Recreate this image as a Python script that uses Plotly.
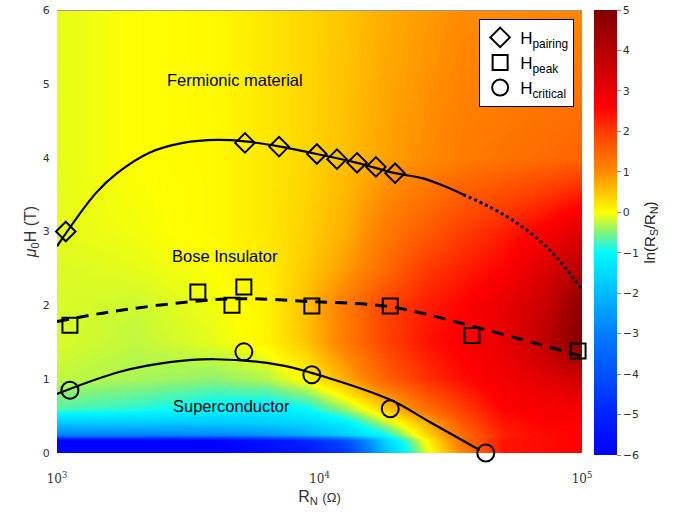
import numpy as np
import plotly.graph_objects as go

# ---------------- data ----------------
# heatmap grid: ln(Rs/Rn) sampled on log10(R_N) columns and field rows
grid_log10_rn = [3.0, 3.3, 3.6, 3.8, 3.95, 4.1, 4.25, 4.4, 4.55, 4.7, 4.85, 5.0]
grid_field = [0.0, 0.17, 0.25, 0.4, 0.6, 1.0, 1.5, 2.0, 2.5, 3.0, 4.0, 6.0]
grid_ln_ratio = [
    [-6.0, -6.0, -6.0, -5.7, -5.4, -4.6, -2.0, -0.2, 1.1, 2.4, 2.5, 2.6],
    [-6.0, -6.0, -6.0, -5.5, -5.0, -4.0, -1.6, 0.0, 1.4, 2.4, 2.5, 2.6],
    [-3.0, -3.0, -2.9, -2.7, -2.3, -1.7, -1.0, 0.3, 1.4, 2.3, 2.5, 2.6],
    [-1.8, -1.8, -1.8, -1.7, -1.6, -1.2, -0.3, 0.6, 1.7, 2.4, 2.6, 2.6],
    [-0.7, -0.85, -1.1, -1.2, -1.0, -0.4, 0.4, 1.3, 2.0, 2.6, 2.7, 2.8],
    [-0.25, -0.35, -0.45, -0.3, 0.05, 0.7, 1.5, 2.1, 2.5, 2.8, 3.1, 3.5],
    [-0.15, -0.25, -0.1, 0.1, 0.5, 1.2, 1.9, 2.4, 2.7, 3.0, 3.8, 5.0],
    [-0.15, -0.2, -0.05, 0.1, 0.55, 1.2, 1.9, 2.3, 2.6, 3.0, 3.6, 4.8],
    [-0.15, -0.1, 0.0, 0.15, 0.45, 0.85, 1.4, 2.0, 2.3, 2.6, 3.2, 4.0],
    [-0.1, -0.05, 0.05, 0.2, 0.4, 0.7, 1.2, 1.6, 2.0, 2.3, 2.7, 3.2],
    [-0.1, 0.0, 0.05, 0.2, 0.35, 0.55, 0.8, 1.0, 1.2, 1.3, 1.4, 1.5],
    [-0.1, 0.0, 0.05, 0.2, 0.35, 0.5, 0.7, 0.85, 1.0, 1.0, 1.05, 1.05],
]

# measured points (R_N in Ohm, field in T)
pairing_rn = [1080, 5200, 7010, 9770, 11660, 13900, 16400, 19400]
pairing_h = [3.00, 4.20, 4.15, 4.05, 3.98, 3.93, 3.875, 3.79]

peak_rn = [1120, 3440, 4640, 5150, 9350, 18600, 38100, 96600]
peak_h = [1.73, 2.18, 2.00, 2.25, 1.99, 1.99, 1.59, 1.38]

critical_rn = [1120, 5150, 9350, 18600, 43000]
critical_h = [0.85, 1.37, 1.06, 0.60, 0.0]

# guide curves (log10 R_N, field)
pair_fit_log = [3.0, 3.148, 3.229, 3.354, 3.48, 3.61, 3.716, 3.85, 3.99, 4.143, 4.288, 4.394, 4.486, 4.547]
pair_fit_h = [2.80, 3.52, 3.79, 4.07, 4.20, 4.24, 4.22, 4.15, 4.05, 3.93, 3.79, 3.72, 3.60, 3.50]
pair_ext_log = [4.547, 4.65, 4.75, 4.85, 4.92, 5.0]
pair_ext_h = [3.50, 3.33, 3.12, 2.84, 2.58, 2.21]

peak_fit_log = [3.0, 3.2, 3.54, 3.71, 3.97, 4.27, 4.60, 5.0]
peak_fit_h = [1.78, 1.91, 2.06, 2.09, 2.05, 1.98, 1.70, 1.31]

crit_fit_log = [3.0, 3.24, 3.43, 3.60, 3.85, 4.04, 4.27, 4.42, 4.61]
crit_fit_h = [0.80, 1.10, 1.23, 1.27, 1.19, 1.01, 0.72, 0.42, 0.04]

region_labels = ["Fermionic material", "Bose Insulator", "Superconductor"]
region_rn = [4760, 4370, 4640]
region_h = [5.05, 2.67, 0.64]

cbar_ticks = [5, 4, 3, 2, 1, 0, -1, -2, -3, -4, -5, -6]

# ---------------- figure ----------------
zmin, zmax = -6, 5
def frac(v):
    return (v - zmin) / (zmax - zmin)

colorscale = [
    [frac(-6), "rgb(0,0,255)"],
    [frac(-5), "rgb(0,35,255)"],
    [frac(-3), "rgb(0,125,255)"],
    [frac(-1), "rgb(0,250,255)"],
    [frac(-0.5), "rgb(130,242,125)"],
    [frac(0), "rgb(255,255,0)"],
    [frac(1), "rgb(255,138,0)"],
    [frac(2), "rgb(255,60,0)"],
    [frac(2.6), "rgb(255,0,0)"],
    [frac(5), "rgb(128,0,0)"],
]

fig = go.Figure()

fig.add_trace(go.Heatmap(
    x=grid_log10_rn, y=grid_field, z=grid_ln_ratio,
    zmin=zmin, zmax=zmax, zsmooth="best", colorscale=colorscale,
    xaxis="x", yaxis="y", showlegend=False, hoverinfo="skip",
    colorbar=dict(
        x=1.023, xanchor="left", xref="paper", xpad=0,
        y=1.0, yanchor="top", len=1.005, ypad=0,
        thickness=23, outlinewidth=0,
        tickvals=cbar_ticks, ticks="outside", ticklen=4, tickcolor="#888",
        tickfont=dict(family="DejaVu Sans", size=11, color="#333"),
        title=dict(text="ln(R<sub>S</sub>/R<sub>N</sub>)", side="right",
                   font=dict(family="Liberation Sans, Arial", size=15, color="#222")),
    ),
))

fig.add_trace(go.Scatter(x=10 ** np.array(pair_fit_log), y=pair_fit_h, mode="lines",
                         line=dict(color="black", width=2.2, shape="spline"),
                         xaxis="x2", yaxis="y", showlegend=False, hoverinfo="skip"))
fig.add_trace(go.Scatter(x=10 ** np.array(pair_ext_log), y=pair_ext_h, mode="lines",
                         line=dict(color="black", width=3, dash="dot", shape="spline"),
                         xaxis="x2", yaxis="y", showlegend=False, hoverinfo="skip"))
fig.add_trace(go.Scatter(x=10 ** np.array(peak_fit_log), y=peak_fit_h, mode="lines",
                         line=dict(color="black", width=3, dash="12px,8px", shape="spline"),
                         xaxis="x2", yaxis="y", showlegend=False, hoverinfo="skip"))
fig.add_trace(go.Scatter(x=10 ** np.array(crit_fit_log), y=crit_fit_h, mode="lines",
                         line=dict(color="black", width=2.2, shape="spline"),
                         xaxis="x2", yaxis="y", showlegend=False, hoverinfo="skip"))

fig.add_trace(go.Scatter(x=pairing_rn, y=pairing_h, mode="markers", name="H<sub>pairing</sub>",
                         marker=dict(symbol="diamond-open", size=15, color="black", line=dict(width=2, color="black")),
                         xaxis="x2", yaxis="y", cliponaxis=False))
fig.add_trace(go.Scatter(x=peak_rn, y=peak_h, mode="markers", name="H<sub>peak</sub>",
                         marker=dict(symbol="square-open", size=15, color="black", line=dict(width=2, color="black")),
                         xaxis="x2", yaxis="y", cliponaxis=False))
fig.add_trace(go.Scatter(x=critical_rn, y=critical_h, mode="markers", name="H<sub>critical</sub>",
                         marker=dict(symbol="circle-open", size=17, color="black", line=dict(width=2, color="black")),
                         xaxis="x2", yaxis="y", cliponaxis=False))

for txt, rx, hy in zip(region_labels, region_rn, region_h):
    fig.add_annotation(x=np.log10(rx), y=hy, xref="x", yref="y", text=txt, showarrow=False,
                       font=dict(family="Liberation Sans, Arial", size=16.5, color="black"))

fig.add_shape(type="line", xref="paper", yref="y", x0=0, x1=1, y0=6, y1=6,
              line=dict(color="#999", width=2), layer="above")

fig.update_layout(
    width=691, height=514,
    margin=dict(l=57, r=109, t=10, b=61, autoexpand=False),
    paper_bgcolor="white", plot_bgcolor="white",
    xaxis=dict(type="linear", range=[3, 5], visible=False, fixedrange=True, automargin=False),
    xaxis2=dict(type="log", range=[3, 5], overlaying="x", anchor="y", side="bottom",
                automargin=False,
                tickvals=[1e3, 1e4, 1e5],
                ticktext=["10<sup>3</sup>", "10<sup>4</sup>", "10<sup>5</sup>"],
                ticks="outside", ticklen=15, tickcolor="rgba(0,0,0,0)",
                showgrid=False, zeroline=False, showline=False,
                tickfont=dict(family="DejaVu Serif", size=12, color="#333"),
                title=dict(text="R<sub>N</sub> <span style='font-size:13px'>(Ω)</span>",
                           font=dict(family="Liberation Sans, Arial", size=16, color="#333"),
                           standoff=5)),
    yaxis=dict(range=[0, 6], tickvals=[0, 1, 2, 3, 4, 5, 6], automargin=False,
               ticks="outside", ticklen=4, tickcolor="rgba(0,0,0,0)",
               showgrid=False, zeroline=False, showline=False,
               tickfont=dict(family="DejaVu Sans", size=11, color="#333"),
               title=dict(text="<i>μ</i><sub>0</sub>H (T)",
                          font=dict(family="Liberation Sans, Arial", size=16, color="#333"),
                          standoff=2)),
    legend=dict(x=0.985, y=0.98, xanchor="right", yanchor="top",
                bgcolor="white", bordercolor="black", borderwidth=1,
                font=dict(family="Liberation Sans, Arial", size=17, color="black"),
                itemsizing="trace", itemwidth=30),
    showlegend=True,
)

fig.write_html("out.html")
